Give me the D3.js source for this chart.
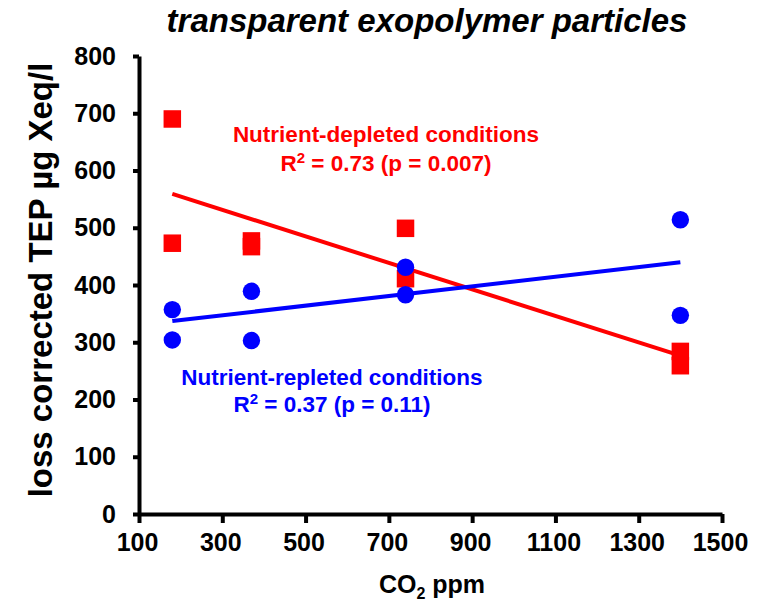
<!DOCTYPE html>
<html>
<head>
<meta charset="utf-8">
<script src="https://cdn.jsdelivr.net/npm/d3@7"></script>
<style>
  html, body { margin: 0; padding: 0; background: #fff; }
  svg { display: block; font-family: "Liberation Sans", Arial, sans-serif; }
</style>
</head>
<body>
<svg id="chart" width="763" height="606"></svg>
<script>
// ---- data ----
const xTicks = [100, 300, 500, 700, 900, 1100, 1300, 1500];
const yTicks = [0, 100, 200, 300, 400, 500, 600, 700, 800];

const depletedCO2 = [180, 180, 370, 370, 740, 740, 1400, 1400];
const depletedTEP = [690, 473, 477, 467, 499, 411, 284, 259];

const repletedCO2 = [180, 180, 370, 370, 740, 740, 1400, 1400];
const repletedTEP = [357, 304, 389, 303, 431, 383, 514, 347];

const titleText = "transparent exopolymer particles";
const yLabelText = "loss corrected TEP µg Xeq/l";
const depletedLabel = "Nutrient-depleted conditions";
const depletedStats = ["R", "2", " = 0.73 (p = 0.007)"];
const repletedLabel = "Nutrient-repleted conditions";
const repletedStats = ["R", "2", " = 0.37 (p = 0.11)"];

const RED = "#ff0000", BLUE = "#0000ff";

const svg = d3.select("#chart");
const x = d3.scaleLinear().domain([100, 1500]).range([139, 722]);
const y = d3.scaleLinear().domain([0, 800]).range([514, 56]);

// least squares fit
function fit(xs, ys) {
  const n = xs.length;
  const mx = d3.mean(xs), my = d3.mean(ys);
  let sxy = 0, sxx = 0;
  for (let i = 0; i < n; i++) { sxy += (xs[i] - mx) * (ys[i] - my); sxx += (xs[i] - mx) ** 2; }
  const b = sxy / sxx, a = my - b * mx;
  const x0 = d3.min(xs), x1 = d3.max(xs);
  return [[x0, a + b * x0], [x1, a + b * x1]];
}

// axes
const yAxis = svg.append("g").attr("transform", `translate(${x(100)},0)`)
  .call(d3.axisLeft(y).tickValues(yTicks).tickSize(6).tickSizeOuter(0).tickPadding(17));
const xAxis = svg.append("g").attr("transform", `translate(0,${y(0)})`)
  .call(d3.axisBottom(x).tickValues(xTicks).tickSize(9).tickSizeOuter(0).tickPadding(10).tickFormat(d3.format("d")));
[xAxis, yAxis].forEach(g => {
  g.select(".domain").attr("stroke", "#000").attr("stroke-width", 4);
  g.selectAll(".tick line").attr("stroke", "#000").attr("stroke-width", 4);
  g.selectAll(".tick text").attr("fill", "#000")
    .style("font-size", "25px").style("font-weight", "bold")
    .style("font-family", "'Liberation Sans', Arial, sans-serif");
});
xAxis.selectAll(".tick text").attr("dx", "-2");

// regression lines
const line = d3.line().x(d => x(d[0])).y(d => y(d[1]));
svg.append("path").datum(fit(depletedCO2, depletedTEP))
  .attr("d", line).attr("stroke", RED).attr("stroke-width", 4).attr("fill", "none");
svg.append("path").datum(fit(repletedCO2, repletedTEP))
  .attr("d", line).attr("stroke", BLUE).attr("stroke-width", 4).attr("fill", "none");

// red squares
const sq = 17.5;
svg.append("g").selectAll("rect").data(depletedCO2.map((c, i) => [c, depletedTEP[i]]))
  .join("rect")
  .attr("x", d => x(d[0]) - sq / 2).attr("y", d => y(d[1]) - sq / 2)
  .attr("width", sq).attr("height", sq).attr("fill", RED);

// blue circles
svg.append("g").selectAll("circle").data(repletedCO2.map((c, i) => [c, repletedTEP[i]]))
  .join("circle")
  .attr("cx", d => x(d[0])).attr("cy", d => y(d[1])).attr("r", 8.7).attr("fill", BLUE);

// title
svg.append("text").attr("x", 427).attr("y", 32).attr("text-anchor", "middle")
  .style("font-size", "33px").style("font-weight", "bold").style("font-style", "italic")
  .text(titleText);

// y label
svg.append("text").attr("transform", "translate(52,280) rotate(-90)").attr("text-anchor", "middle")
  .style("font-size", "33px").style("font-weight", "bold").text(yLabelText);

// x label
const xl = svg.append("text").attr("x", 432).attr("y", 593).attr("text-anchor", "middle")
  .style("font-size", "25px").style("font-weight", "bold");
xl.append("tspan").text("CO");
xl.append("tspan").attr("dy", 6).style("font-size", "16px").text("2");
xl.append("tspan").attr("dy", -6).text(" ppm");

// annotations
function annot(cx, y1, y2, color, label, stats) {
  svg.append("text").attr("x", cx).attr("y", y1).attr("text-anchor", "middle").attr("fill", color)
    .style("font-size", "22.5px").style("font-weight", "bold").text(label);
  const t = svg.append("text").attr("x", cx).attr("y", y2).attr("text-anchor", "middle").attr("fill", color)
    .style("font-size", "22.5px").style("font-weight", "bold");
  t.append("tspan").text(stats[0]);
  t.append("tspan").attr("dy", -8).style("font-size", "15px").text(stats[1]);
  t.append("tspan").attr("dy", 8).text(stats[2]);
}
annot(386, 142, 171, RED, depletedLabel, depletedStats);
annot(332, 385, 412, BLUE, repletedLabel, repletedStats);
</script>
</body>
</html>
